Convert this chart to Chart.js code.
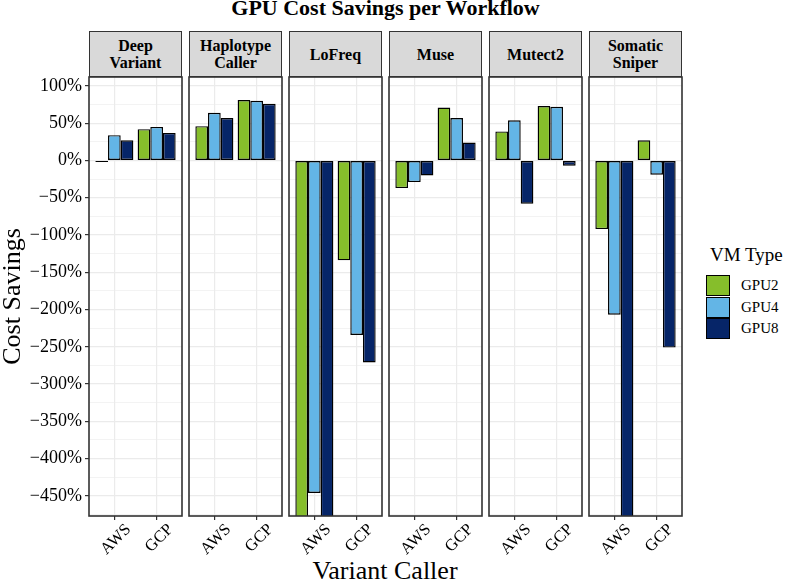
<!DOCTYPE html>
<html>
<head>
<meta charset="utf-8">
<script src="https://cdn.jsdelivr.net/npm/chart.js@4.4.0/dist/chart.umd.min.js"></script>
<style>
  body { margin: 0; width: 787px; height: 583px; background: #fff; position: relative; overflow: hidden;
         font-family: "Liberation Serif", "Times New Roman", serif; color: #000; }
  .abs { position: absolute; }
  #title { left: 0; width: 771px; top: -4px; text-align: center; font-weight: bold; font-size: 22px; line-height: 24px; }
  #xtitle { left: 185px; width: 400px; top: 558px; text-align: center; font-size: 26px; line-height: 26px; }
  .strip { top: 31px; height: 46px; box-sizing: border-box; border: 1.6px solid #333; background: #d9d9d9;
           display: flex; align-items: center; justify-content: center; text-align: center;
           font-weight: bold; font-size: 16px; line-height: 17px; white-space: pre; }
  #legendTitle { left: 710px; top: 245px; font-size: 19px; line-height: 19px; white-space: nowrap; }
  .key { left: 706px; width: 24px; height: 21px; box-sizing: border-box; border: 1.3px solid #000; }
  .keyLabel { left: 741px; font-size: 15px; line-height: 21px; }
</style>
</head>
<body>
<div id="title" class="abs">GPU Cost Savings per Workflow</div>
<div id="xtitle" class="abs">Variant Caller</div>
<div id="legendTitle" class="abs">VM Type</div>
<script>
// Données (en %)
const workflows = ['Deep\nVariant', 'Haplotype\nCaller', 'LoFreq', 'Muse', 'Mutect2', 'Somatic\nSniper'];
const clouds = ['AWS', 'GCP'];
const vmTypes = ['GPU2', 'GPU4', 'GPU8'];
const vmColors = ['#86be2b', '#63b5e6', '#062568'];

const awsGpu2 = [-2, 46, -520, -37, 39, -92];
const awsGpu4 = [34, 64, -446, -29, 54, -207];
const awsGpu8 = [27, 57, -510, -20, -58, -500];
const gcpGpu2 = [42, 81, -134, 71, 73, 27];
const gcpGpu4 = [45, 80, -234, 57, 72, -19];
const gcpGpu8 = [37, 76, -271, 24, -7, -251];

const seriesAws = [awsGpu2, awsGpu4, awsGpu8];
const seriesGcp = [gcpGpu2, gcpGpu4, gcpGpu8];

const yMin = -477, yMax = 112, yStep = 25, yMajor = 50;

// Mise en page des panneaux
const panelLeft = [89, 189, 289, 389, 489, 589];
const panelWidth = 93;
const panelTop = 77, panelBottom = 516;
const pad = 3, xAxisHeight = 45, yAxisWidth = 89;

function fmtPct(v) {
    return (v < 0 ? '\u2212' : '') + Math.abs(v) + '%';
}

const panelBorder = {
    id: 'panelBorder',
    afterDraw(chart) {
        const { ctx, chartArea: a } = chart;
        ctx.save();
        ctx.strokeStyle = '#333';
        ctx.lineWidth = 1.6;
        ctx.strokeRect(a.left, a.top, a.right - a.left, a.bottom - a.top);
        ctx.restore();
    }
};

// Légende
vmTypes.forEach((name, k) => {
    const key = document.createElement('div');
    key.className = 'abs key';
    key.style.top = (275 + k * 21.5) + 'px';
    key.style.background = vmColors[k];
    document.body.appendChild(key);
    const lab = document.createElement('div');
    lab.className = 'abs keyLabel';
    lab.style.top = (275 + k * 21.5) + 'px';
    lab.textContent = name;
    document.body.appendChild(lab);
});

workflows.forEach((wf, p) => {
    const first = p === 0;

    const strip = document.createElement('div');
    strip.className = 'abs strip';
    strip.style.left = panelLeft[p] + 'px';
    strip.style.width = panelWidth + 'px';
    strip.textContent = wf;
    document.body.appendChild(strip);

    const canvas = document.createElement('canvas');
    const left = first ? 0 : panelLeft[p] - pad;
    const width = first ? panelLeft[p] + panelWidth + pad : panelWidth + 2 * pad;
    const height = pad + (panelBottom - panelTop) + xAxisHeight;
    canvas.width = width;
    canvas.height = height;
    canvas.className = 'abs';
    canvas.style.left = left + 'px';
    canvas.style.top = (panelTop - pad) + 'px';
    document.body.appendChild(canvas);

    const datasets = vmTypes.map((name, k) => ({
        label: name,
        data: clouds.map((c, i) => ({ x: i + 1, y: (i === 0 ? seriesAws : seriesGcp)[k][p] })),
        backgroundColor: vmColors[k],
        borderColor: '#000',
        borderWidth: 1.4,
        borderSkipped: false,
        categoryPercentage: 0.9,
        barPercentage: 1
    }));

    new Chart(canvas, {
        type: 'bar',
        data: { datasets },
        plugins: [panelBorder],
        options: {
            responsive: false,
            animation: false,
            layout: { padding: { left: first ? 0 : pad, right: pad, top: pad, bottom: 0 } },
            plugins: { legend: { display: false }, tooltip: { enabled: false } },
            scales: {
                x: {
                    type: 'linear',
                    offset: false,
                    bounds: 'data',
                    min: 0.4,
                    max: 2.6,
                    afterBuildTicks: s => { s.ticks = clouds.map((c, i) => ({ value: i + 1 })); },
                    afterFit: s => { s.height = xAxisHeight; s.paddingLeft = 0; s.paddingRight = 0; },
                    border: { display: false },
                    grid: { offset: false, color: '#ebebeb', lineWidth: 1.2, tickColor: '#333', tickLength: 4 },
                    ticks: {
                        autoSkip: false,
                        minRotation: 45,
                        maxRotation: 45,
                        labelOffset: 14,
                        padding: 0,
                        color: '#000',
                        font: { family: 'Liberation Serif', size: 16.5 },
                        callback: v => clouds[v - 1]
                    }
                },
                y: {
                    min: yMin,
                    max: yMax,
                    afterFit: s => { s.width = first ? yAxisWidth : 0; s.paddingTop = 0; s.paddingBottom = 0; },
                    border: { display: false },
                    grid: {
                        color: '#ebebeb',
                        lineWidth: c => (c.tick && c.tick.value % yMajor === 0) ? 1.2 : 0.6,
                        tickColor: c => (c.tick && c.tick.value % yMajor === 0) ? '#333' : 'rgba(0,0,0,0)',
                        drawTicks: first,
                        tickLength: 4
                    },
                    ticks: {
                        display: first,
                        stepSize: yStep,
                        includeBounds: false,
                        autoSkip: false,
                        padding: 3,
                        color: '#000',
                        font: { family: 'Liberation Serif', size: 18 },
                        callback: v => (v % yMajor === 0 ? fmtPct(v) : '')
                    },
                    title: {
                        display: first,
                        text: 'Cost Savings',
                        color: '#000',
                        padding: 0,
                        font: { family: 'Liberation Serif', size: 26, lineHeight: 1 }
                    }
                }
            }
        }
    });
});
</script>
</body>
</html>
